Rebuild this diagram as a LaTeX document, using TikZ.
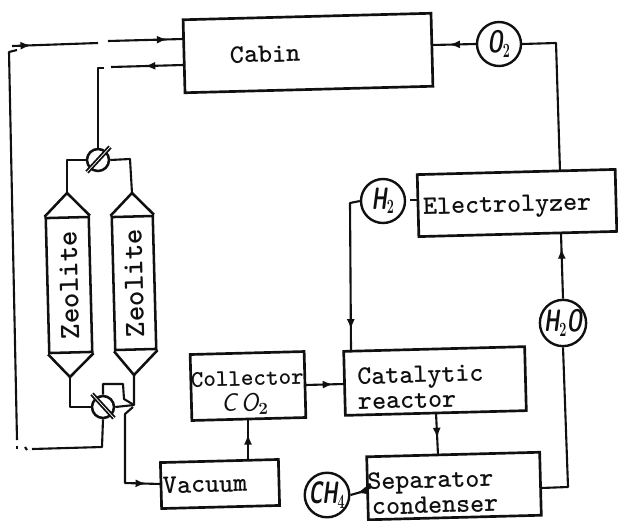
\documentclass[tikz,border=0pt]{standalone}
\usepackage{amsmath}
\usetikzlibrary{calc,arrows.meta}
\usetikzlibrary{decorations.markings}
\definecolor{ink}{HTML}{101010}
\def\px{0.25mm}
\newcommand{\gasname}[1]{\scalebox{0.62}[1]{\fontsize{22}{24}\selectfont\sffamily\bfseries\itshape #1}}
\newcommand{\sink}{\rule{0pt}{20pt}}
\tikzset{
  box/.style={draw=ink, line width=1.9pt, rotate=1.5, inner xsep=0pt, inner ysep=0pt, text=ink, align=left,
    font=\ttfamily\bfseries\fontsize{19}{18}\selectfont},
  gas/.style={draw=ink, line width=1.7pt, circle, inner sep=0pt, minimum size=44*\px, text=ink},
  valve/.style={draw=ink, line width=1.8pt, circle, inner sep=0pt, minimum size=22*\px},
  vessel/.style={draw=ink, line width=1.8pt, rotate=91.5, inner sep=0pt, text=ink, font=\ttfamily\bfseries\fontsize{21}{18}\selectfont},
  pipe/.style={draw=ink, line width=1.5pt, line join=round},
  flow/.style={pipe, postaction={decorate}, decoration={markings, mark=at position #1 with {\arrow{Latex[length=2.6mm,width=2mm]}}}},
  stem/.style={draw=ink, line width=1.3pt, double=white, double distance=0.5pt}
}
\begin{document}
\begin{tikzpicture}[x=\px, y=-\px]
  \useasboundingbox (0,0) rectangle (618,520);

  % Blocks
  \node (cabin) [box, minimum width=248*\px, minimum height=73*\px, text width=248*\px] at (308,53) {\hspace*{11.5mm}Cabin};
  \node (electrolyzer) [box, minimum width=198*\px, minimum height=62*\px, text width=198*\px] at (517,203) {\hspace*{1.25mm}\rule{0pt}{17pt}Electrolyzer};
  \node (catalytic) [box, minimum width=181*\px, minimum height=64*\px, text width=181*\px] at (435,381) {\hspace*{3.25mm}\sink Catalytic\\\hspace*{3.25mm}reactor};
  \node (separator) [box, minimum width=173*\px, minimum height=63*\px, text width=173*\px] at (454,486) {\sink Separator\\\hspace*{1mm}condenser};
  \node (collector) [box, minimum width=114*\px, minimum height=66*\px, text width=114*\px, font=\ttfamily\bfseries\fontsize{17}{18}\selectfont] at (248,386) {\sink Collector\\\hspace*{7.5mm}{\sffamily\mdseries\itshape\fontsize{18}{18}\selectfont C\,O$_{\boldsymbol{2}}$}};
  \node (vacuum) [box, minimum width=118*\px, minimum height=46*\px, text width=118*\px] at (220,484) {\hspace*{0.5mm}Vacuum};

  % Gas circles
  \node (o2) [gas] at (499,44) {\gasname{O$_{\boldsymbol{2}}$}};
  \node (h2) [gas] at (383,201) {\gasname{H$_{\boldsymbol{2}}$}};
  \node (h2o) [gas] at (563,323) {\gasname{H$_{\boldsymbol{2}}$O}};
  \node (ch4) [gas] at (327,495) {\gasname{CH$_{\boldsymbol{4}}$}};

  % Zeolite columns
  \node (zeolleft) [vessel, minimum width=135*\px, minimum height=43*\px] at (69,285) {Zeolite};
  \node (zeolright) [vessel, minimum width=133*\px, minimum height=41*\px] at (134,283) {Zeolite};
  \coordinate (lefttop) at (67,193);
  \coordinate (leftbot) at (70,377);
  \coordinate (righttop) at (132,193);
  \coordinate (rightbot) at (134,375);
  \draw[pipe, line width=1.8pt] (zeolleft.north east) -- (lefttop) -- (zeolleft.south east);
  \draw[pipe, line width=1.8pt] (zeolleft.north west) -- (leftbot) -- (zeolleft.south west);
  \draw[pipe, line width=1.8pt] (zeolright.north east) -- (righttop) -- (zeolright.south east);
  \draw[pipe, line width=1.8pt] (zeolright.north west) -- (rightbot) -- (zeolright.south west);

  % Valves
  \node (valvetop) [valve] at (98,160) {};
  \node (valvebot) [valve] at (103,407) {};
  \coordinate (stemtopa) at (87,172);
  \coordinate (stemtopb) at (110,147);
  \coordinate (stembota) at (92,394);
  \coordinate (stembotb) at (114,418);
  \draw[stem] (stemtopa) -- (stemtopb);
  \draw[stem] (stembota) -- (stembotb);

  % Return line to the cabin, broken as printed
  \coordinate (cabinin) at (183,39);
  \coordinate (retgapb) at (108,41);
  \coordinate (retgapa) at (98,43);
  \coordinate (retcorner) at (12,46);
  \coordinate (rettick) at (17,50);
  \coordinate (rettop) at (9,52);
  \coordinate (retbot) at (17,440);
  \coordinate (retdota) at (17,446);
  \coordinate (retdotb) at (17,449);
  \coordinate (retdotc) at (25,447);
  \coordinate (retdotd) at (27,450);
  \coordinate (retlow) at (32,449);
  \coordinate (retvalve) at (102,447);
  \draw[flow=0.79] (retgapb) -- (cabinin);
  \draw[flow=0.22] (retcorner) -- (retgapa);
  \draw[pipe] (rettick) -- (rettop) -- (retbot);
  \draw[pipe] (retdota) -- (retdotb);
  \draw[pipe] (retdotc) -- (retdotd);
  \draw[pipe] (retlow) -- (retvalve) -- (valvebot.south);

  % Cabin air to the top valve
  \coordinate (cabinout) at (183,65);
  \coordinate (outgap) at (111,67);
  \coordinate (outcorner) at (98,68);
  \coordinate (outstub) at (104,68);
  \draw[flow=0.53] (cabinout) -- (outgap);
  \draw[pipe] (outstub) -- (outcorner) -- (valvetop.north);

  % Top valve to the columns
  \coordinate (bendl) at (67,160);
  \coordinate (bendr) at (130,159);
  \draw[pipe] (valvetop.west) -- (bendl) -- (lefttop);
  \draw[pipe] (valvetop.east) -- (bendr) -- (righttop);

  % Bottom valve to the columns and the vacuum
  \coordinate (bendlb) at (70,407);
  \coordinate (bendrb) at (134,405);
  \coordinate (loopa) at (103,384);
  \coordinate (loopb) at (123,384);
  \coordinate (loopc) at (124,399);
  \coordinate (vacbend) at (125,483);
  \coordinate (vactop) at (125,414);
  \coordinate (vacin) at (161,484);
  \draw[pipe] (leftbot) -- (bendlb) -- (valvebot.west);
  \draw[pipe] (valvebot.east) -- (bendrb) -- (rightbot);
  \draw[pipe] (valvebot.north) -- (loopa) -- (loopb) -- (loopc) -- (bendrb);
  \draw[flow=0.87] (bendrb) ++(-1,2) -- (vactop) -- (vacbend) -- (vacin);

  % Main loop
  \coordinate (collbot) at (248,419);
  \coordinate (vactopout) at (248,461);
  \coordinate (collout) at (305,385);
  \coordinate (catin) at (344,384);
  \coordinate (catbot) at (436,413);
  \coordinate (sepin) at (438,455);
  \coordinate (sepout) at (541,488);
  \coordinate (sepwest) at (368,490);
  \coordinate (h2obend) at (568,487);
  \coordinate (elecbot) at (561,234);
  \coordinate (electop) at (560,171);
  \coordinate (o2bend) at (556,43);
  \coordinate (cabineast) at (432,45);
  \coordinate (elecwest) at (418,200);
  \coordinate (h2stub) at (410,200);
  \coordinate (h2bend) at (350,203);
  \coordinate (cattop) at (351,350);
  \draw[flow=0.64] (vactopout) -- (collbot);
  \draw[flow=0.72] (collout) -- (catin);
  \draw[flow=0.6] (catbot) -- (sepin);
  \draw[flow=0.65] (sepwest) -- (ch4.east);
  \draw[pipe] (sepout) -- (h2obend) -- (h2o.south);
  \draw[flow=0.78] (h2o.north) -- (elecbot);
  \draw[pipe] (electop) -- (o2bend) -- (o2.east);
  \draw[flow=0.6] (o2.west) -- (cabineast);
  \draw[pipe] (elecwest) -- (h2stub);
  \draw[flow=0.87] (h2.west) -- (h2bend) -- (cattop);

\end{tikzpicture}
\end{document}
